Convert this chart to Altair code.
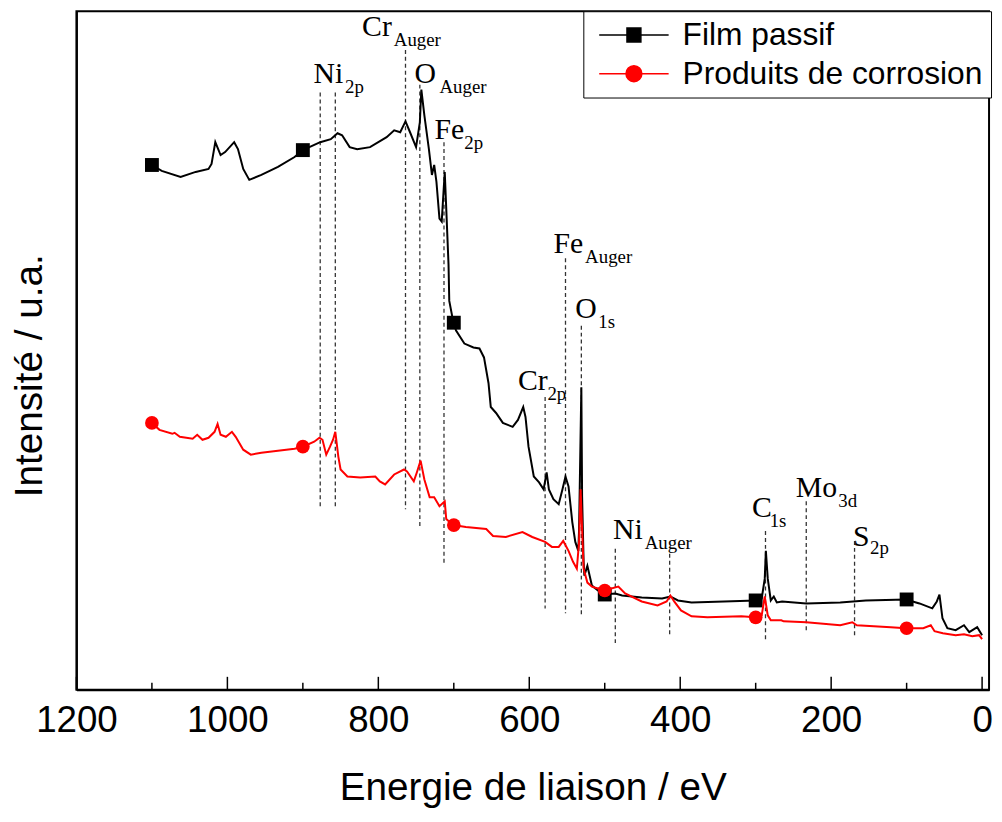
import altair as alt
import pandas as pd

SERIES = ["Film passif", "Produits de corrosion"]
COLORS = ["#000000", "#ff0000"]

# Film passif (black curve): binding energy (eV) and intensity (a.u.)
fp_energy = [1100, 1087, 1062, 1042, 1025, 1021, 1016, 1009, 1003, 991,
             986, 979, 971, 955, 933, 911, 900, 877, 863, 854,
             848, 838, 828, 811, 789, 779, 771, 764, 758, 750,
             745, 743, 739, 733, 729, 726, 723, 719, 716, 712,
             710, 707, 706, 701, 697, 686, 674, 666, 660, 654,
             651, 644, 635, 622, 615, 608, 605, 601, 594, 587,
             581, 577, 574, 568, 561, 556, 552, 548, 543, 539,
             535, 534, 531, 530, 528, 527, 523, 520, 517, 509,
             501, 486, 477, 451, 424, 413, 403, 385, 342, 300,
             292, 288, 286.5, 284, 280, 276, 272, 265, 233, 188,
             154, 101, 83, 66, 60, 56.5, 52.5, 46, 35, 24,
             17, 6.5, 0]
fp_intensity = [529, 523, 517, 522, 525, 530, 552, 539, 542, 552,
                545, 525, 514, 519, 527, 537, 544, 552, 555, 561,
                559, 547, 545, 547, 557, 564, 562, 573, 562, 547,
                572, 605, 579, 545, 519, 529, 512, 475, 472, 522,
                485, 429, 392, 372, 362, 349, 345, 344, 335, 309,
                285, 279, 269, 265, 272, 285, 275, 245, 215, 209,
                202, 219, 202, 192, 187, 202, 215, 205, 169, 149,
                140, 162, 305, 195, 129, 115, 125, 115, 105, 100,
                96, 97, 95, 93, 92, 94, 90, 88, 89, 90,
                92, 112, 140, 112, 90, 94, 88, 89, 87, 88,
                90, 91, 87, 82, 89, 96, 72, 62, 60, 65,
                58, 63, 55]

# Produits de corrosion (red curve)
rp_energy = [1100, 1090, 1073, 1070, 1063, 1046, 1040, 1033, 1025, 1017,
             1013, 1009, 1002, 994, 989, 979, 969, 955, 933, 911,
             900, 885, 878, 874, 869, 864, 860, 857, 853, 850,
             841, 824, 804, 798, 791, 779, 766, 762, 753, 749,
             744, 739, 732, 726, 719, 712, 710, 701, 684, 657,
             648, 631, 609, 596, 579, 570, 561, 555, 548, 542,
             537, 534, 532, 530, 528, 523, 517, 509, 501, 482,
             473, 451, 430, 418, 413, 408, 399, 385, 364, 319,
             301, 292, 288, 284, 280, 266, 263, 233, 188, 172,
             166, 121, 101, 78, 68, 63, 52, 35, 24, 13,
             4, 0]
rp_intensity = [269, 262, 258, 259, 255, 253, 257, 252, 254, 260,
                268, 257, 255, 260, 255, 242, 237, 239, 241, 243,
                245, 250, 254, 252, 237, 245, 252, 260, 235, 222,
                215, 214, 215, 210, 207, 217, 222, 220, 210, 219,
                231, 212, 194, 194, 185, 190, 172, 166, 164, 162,
                155, 154, 159, 154, 149, 144, 144, 150, 140, 129,
                122, 149, 202, 162, 122, 108, 104, 102, 100, 104,
                97, 89, 85, 89, 95, 89, 80, 74, 73, 74,
                73, 75, 94, 75, 70, 70, 69, 68, 65, 68,
                65, 63, 62, 62, 65, 59, 57, 55, 56, 54,
                55, 51]

# Markers every 200 eV
marker_energy = [1100, 900, 700, 500, 300, 100]
fp_marker = [529, 544, 370, 96, 90, 91]
rp_marker = [269, 245, 166, 100, 73, 62]

# Dashed peak-position lines
peak_energy = [877, 857, 764, 745, 713, 579, 552, 531, 486, 414, 287, 233, 169]
peak_top = [602, 602, 645, 610, 552, 295, 435, 367, 142, 137, 160, 190, 150]
peak_bottom = [184, 184, 182, 162, 127, 82, 77, 75, 47, 55, 49, 59, 55]

# Peak labels (element + subscript)
label_text = ["Ni", "Cr", "O", "Fe", "Fe", "O", "Cr", "Ni", "C", "Mo", "S"]
label_energy = [886, 821.5, 752, 725.5, 568, 539, 615, 489, 305, 247, 171]
label_intensity = [612, 659, 612, 555, 440, 375, 302, 152, 174, 194, 145]
sub_text = ["2p", "Auger", "Auger", "2p", "Auger", "1s", "2p", "Auger", "1s", "3d", "2p"]
sub_energy = [844, 779.5, 719, 686, 526, 508.5, 576, 447, 281.5, 190.5, 148.5]
sub_intensity = [602, 649, 602, 545, 430, 365, 292, 142, 164, 184, 137]

# Axis ticks (inward)
tick_energy = [1200, 1100, 1000, 900, 800, 700, 600, 500, 400, 300, 200, 100, 0]
tick_length = [13, 7, 13, 7, 13, 7, 13, 7, 13, 7, 13, 7, 13]
tick_labels = [1200, 1000, 800, 600, 400, 200, 0]

df_fp = pd.DataFrame({"E": fp_energy, "I": fp_intensity, "series": SERIES[0],
                      "idx": range(len(fp_energy))})
df_rp = pd.DataFrame({"E": rp_energy, "I": rp_intensity, "series": SERIES[1],
                      "idx": range(len(rp_energy))})
df_fpm = pd.DataFrame({"E": marker_energy, "I": fp_marker})
df_rpm = pd.DataFrame({"E": marker_energy, "I": rp_marker})
df_peaks = pd.DataFrame({"E": peak_energy, "top": peak_top, "bottom": peak_bottom})
df_lab = pd.DataFrame({"E": label_energy, "I": label_intensity, "t": label_text})
df_sub = pd.DataFrame({"E": sub_energy, "I": sub_intensity, "t": sub_text})
df_ticks = pd.DataFrame({"E": tick_energy, "y0": [0] * len(tick_energy), "len": tick_length})

AXFONT = "Liberation Sans"
SERIF = "Liberation Serif"

xscale = alt.Scale(domain=[-9.2, 1200], reverse=True, nice=False, zero=False)
yscale = alt.Scale(domain=[0, 684], nice=False, zero=False)
cscale = alt.Scale(domain=SERIES, range=COLORS)

xaxis = alt.Axis(values=tick_labels, format="d", ticks=False, tickSize=0, grid=False,
                 labelFont=AXFONT, labelFontSize=37, labelPadding=13, labelFlush=False,
                 labelColor="black", domainColor="black", domainWidth=2,
                 title="Energie de liaison / eV", titleFont=AXFONT, titleFontSize=39,
                 titleFontWeight="normal", titleColor="black", titlePadding=31)
yaxis = alt.Axis(labels=False, ticks=False, tickSize=0, grid=False,
                 domainColor="black", domainWidth=2,
                 title="Intensité / u.a.", titleFont=AXFONT, titleFontSize=39,
                 titleFontWeight="normal", titleColor="black",
                 titleX=-27, titleY=367, titleAngle=270, titleBaseline="bottom",
                 titleAlign="center")

SQ = "M-2.333,0H2.333M-0.467,-0.467H0.467V0.467H-0.467Z"
CI = "M-2.333,0H2.333M0.533,0A0.533,0.533,0,1,1,-0.533,0A0.533,0.533,0,1,1,0.533,0Z"

legend = alt.Legend(
    title=None, orient="none", legendX=511, legendY=0,
    symbolSize=900, symbolStrokeWidth=1.5,
    symbolType={"expr": "datum.value === '%s' ? '%s' : '%s'" % (SERIES[0], SQ, CI)},
    symbolFillColor={"expr": "datum.value === '%s' ? '%s' : '%s'" % (SERIES[0], COLORS[0], COLORS[1])},
    symbolOpacity=1,
    symbolOffset=27, labelOffset=33, labelLimit=600,
    labelFont="Liberation Sans", labelFontSize=32, labelColor="black",
    rowPadding=7, padding=8, strokeColor="black", fillColor="white",
)

X = alt.X("E:Q", scale=xscale, axis=xaxis)
Y = alt.Y("I:Q", scale=yscale, axis=yaxis)

rules = alt.Chart(df_peaks).mark_rule(strokeDash=[4, 3], strokeWidth=1.3, color="#333333").encode(
    x=X, y=alt.Y("top:Q", scale=yscale, axis=yaxis), y2="bottom:Q")

ticks = alt.Chart(df_ticks).mark_rule(strokeWidth=1.5, color="black").encode(
    x=X, y=alt.Y("y0:Q", scale=yscale, axis=yaxis), y2="len:Q")

fp_line = alt.Chart(df_fp).mark_line(strokeWidth=2).encode(
    x=X, y=Y, color=alt.Color("series:N", scale=cscale, legend=legend), order="idx:Q")
rp_line = alt.Chart(df_rp).mark_line(strokeWidth=2).encode(
    x=X, y=Y, color=alt.Color("series:N", scale=cscale, legend=legend), order="idx:Q")

fp_pts = alt.Chart(df_fpm).mark_point(shape="square", filled=True, size=196, color="black",
                                      opacity=1).encode(x=X, y=Y)
rp_pts = alt.Chart(df_rpm).mark_point(shape="circle", filled=True, size=190, color="#ff0000",
                                      opacity=1).encode(x=X, y=Y)

labels = alt.Chart(df_lab).mark_text(font=SERIF, fontSize=30, align="left",
                                     baseline="alphabetic", color="black").encode(
    x=X, y=Y, text="t:N")
subs = alt.Chart(df_sub).mark_text(font=SERIF, fontSize=19, align="left",
                                   baseline="alphabetic", color="black").encode(
    x=X, y=Y, text="t:N")

chart = alt.layer(rules, ticks, fp_line, fp_pts, rp_line, rp_pts, labels, subs).properties(
    width=920, height=684,
    padding={"left": 69, "top": 0, "right": 5, "bottom": 120},
    autosize=alt.AutoSizeParams(type="none"),
).configure_view(stroke="black", strokeWidth=2)

chart.save("out.html", embed_options={"renderer": "svg", "actions": False})
